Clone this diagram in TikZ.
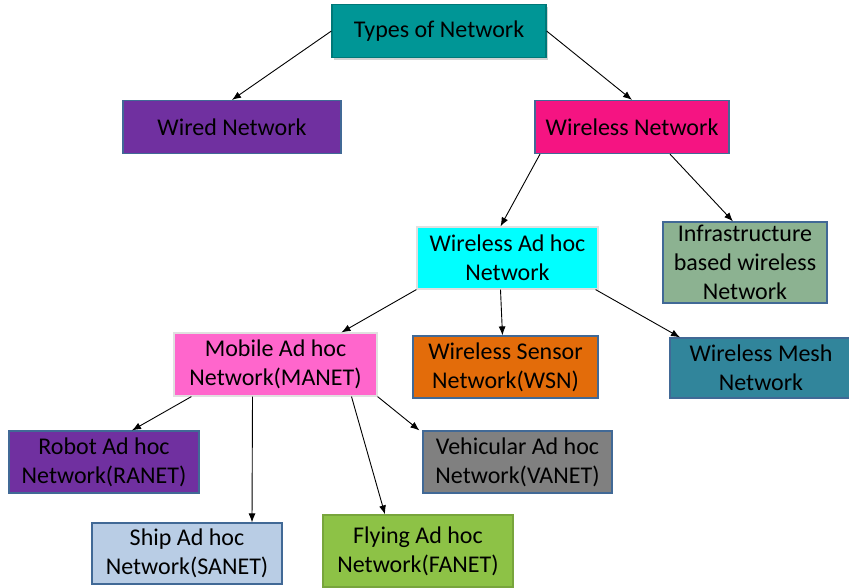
\documentclass[tikz,border=0pt]{standalone}
\usepackage{fontspec}
\setmainfont{Carlito}
\usetikzlibrary{shadows,arrows.meta}
\definecolor{tealA}{RGB}{0,150,150}
\definecolor{purp}{RGB}{112,48,160}
\definecolor{hotpink}{RGB}{245,20,130}
\definecolor{cyanA}{RGB}{0,255,255}
\definecolor{sage}{RGB}{140,178,145}
\definecolor{lightpink}{RGB}{255,102,204}
\definecolor{orangeA}{RGB}{227,108,10}
\definecolor{meshblue}{RGB}{49,133,155}
\definecolor{greyA}{RGB}{128,128,128}
\definecolor{paleblue}{RGB}{185,205,229}
\definecolor{lime}{RGB}{141,194,70}
\definecolor{edgeblue}{RGB}{65,105,150}
\tikzset{
  box/.style={draw=edgeblue, line width=1.2pt, align=center, inner sep=0pt,
    font=\fontsize{24}{29}\selectfont, text=black},
  lightbox/.style={box, draw=white!88!black},
  link/.style={-{Latex[length=9pt,width=7pt]}, line width=0.9pt}
}
\begin{document}
\begin{tikzpicture}[x=1pt,y=-1pt]
\useasboundingbox (0,0) rectangle (849,587);
% top-level
\node[box, draw=tealA!80!black, fill=tealA, drop shadow={opacity=0.35,shadow xshift=2pt,shadow yshift=-2pt},
  minimum width=214pt, minimum height=53pt] (types) at (439,31) {Types of Network};
\node[box, fill=purp, minimum width=218pt, minimum height=53pt] (wired) at (232,127) {Wired Network};
\node[box, fill=hotpink, minimum width=194pt, minimum height=53pt] (wireless) at (632,127) {Wireless Network};
% wireless branches
\node[lightbox, fill=cyanA, minimum width=181pt, minimum height=62pt] (adhoc) at (507.5,258) {Wireless Ad hoc\\Network};
\node[box, fill=sage, minimum width=164pt, minimum height=81pt] (infra) at (745,262.5) {Infrastructure\\based wireless\\Network};
% ad hoc branches
\node[lightbox, fill=lightpink, minimum width=203pt, minimum height=63pt] (manet) at (275.5,364.5) {Mobile Ad hoc\\Network(MANET)};
\node[box, fill=orangeA, minimum width=185pt, minimum height=62pt] (wsn) at (505.5,367) {Wireless Sensor\\Network(WSN)};
\node[box, fill=meshblue, minimum width=182pt, minimum height=60pt] (mesh) at (761,368) {Wireless Mesh\\Network};
% MANET branches
\node[box, fill=purp, minimum width=190pt, minimum height=62pt] (ranet) at (104,462) {Robot Ad hoc\\Network(RANET)};
\node[box, fill=greyA, minimum width=189pt, minimum height=62pt] (vanet) at (517.5,462) {Vehicular Ad hoc\\Network(VANET)};
\node[box, fill=paleblue, minimum width=190pt, minimum height=61pt] (sanet) at (187,553.5) {Ship Ad hoc\\Network(SANET)};
\node[box, draw=lime!85!black, fill=lime, minimum width=190pt, minimum height=72pt] (fanet) at (418,551) {Flying Ad hoc\\Network(FANET)};
% connectors
\draw[link] (types.west) -- (wired.north);
\draw[link] (types.east) -- (wireless.north);
\draw[link] ([xshift=-92pt]wireless.south) -- ([xshift=-7pt]adhoc.north);
\draw[link] ([xshift=38pt]wireless.south) -- ([xshift=-12pt]infra.north);
\draw[link] (adhoc.south west) -- ([xshift=66pt]manet.north);
\draw[link] ([xshift=-7pt]adhoc.south) -- ([xshift=-3pt]wsn.north);
\draw[link] ([xshift=-3pt]adhoc.south east) -- ([xshift=-81pt]mesh.north);
\draw[link] ([xshift=18pt]manet.south west) -- ([xshift=28pt]ranet.north);
\draw[link] ([xshift=-23pt]manet.south) -- ([xshift=65pt]sanet.north);
\draw[link] ([xshift=76pt]manet.south) -- ([xshift=-33pt]fanet.north);
\draw[link] (manet.south east) -- ([xshift=-3pt]vanet.north west);
\end{tikzpicture}
\end{document}
